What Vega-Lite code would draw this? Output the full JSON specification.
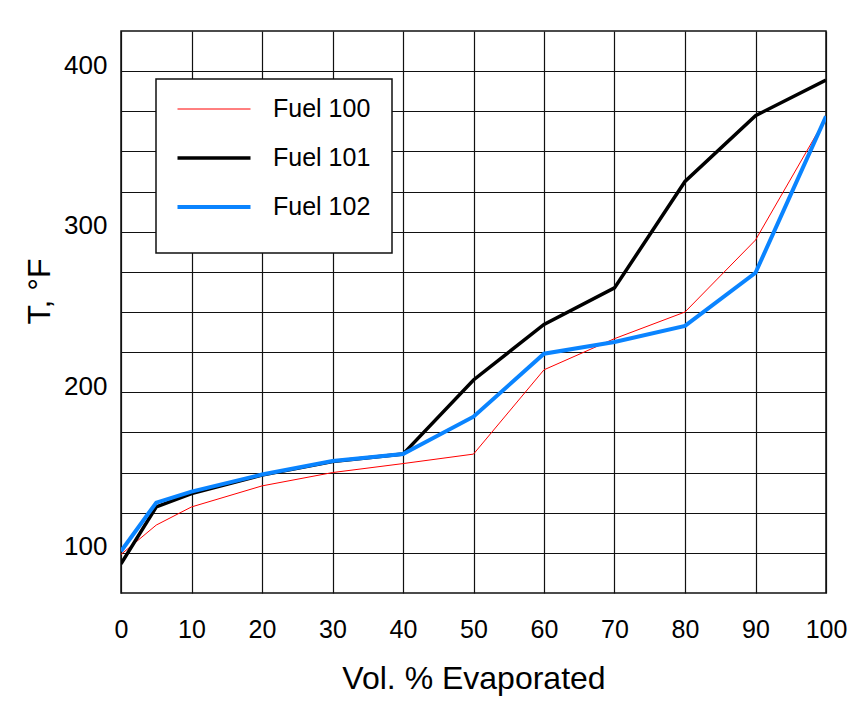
{
  "$schema": "https://vega.github.io/schema/vega-lite/v6.json",
  "width": 705,
  "height": 562,
  "autosize": {"type": "none"},
  "padding": {"left": 121, "top": 31, "right": 22, "bottom": 109},
  "background": "white",
  "config": {
    "font": "Liberation Sans",
    "view": {"stroke": "#111", "strokeWidth": 1.5}
  },
  "data": {
    "values": [
      {"fuel": "Fuel 100", "vol": 0, "T": 99},
      {"fuel": "Fuel 100", "vol": 5, "T": 117.3},
      {"fuel": "Fuel 100", "vol": 10, "T": 128.6},
      {"fuel": "Fuel 100", "vol": 20, "T": 141.7},
      {"fuel": "Fuel 100", "vol": 30, "T": 150},
      {"fuel": "Fuel 100", "vol": 40, "T": 155.6},
      {"fuel": "Fuel 100", "vol": 50, "T": 161.5},
      {"fuel": "Fuel 100", "vol": 60, "T": 214},
      {"fuel": "Fuel 100", "vol": 70, "T": 233.4},
      {"fuel": "Fuel 100", "vol": 80, "T": 250},
      {"fuel": "Fuel 100", "vol": 90, "T": 294.8},
      {"fuel": "Fuel 100", "vol": 100, "T": 371},
      {"fuel": "Fuel 101", "vol": 0, "T": 93.1},
      {"fuel": "Fuel 101", "vol": 5, "T": 128.6},
      {"fuel": "Fuel 101", "vol": 10, "T": 136.9},
      {"fuel": "Fuel 101", "vol": 20, "T": 148.4},
      {"fuel": "Fuel 101", "vol": 30, "T": 156.9},
      {"fuel": "Fuel 101", "vol": 40, "T": 161.5},
      {"fuel": "Fuel 101", "vol": 50, "T": 207.7},
      {"fuel": "Fuel 101", "vol": 60, "T": 242.3},
      {"fuel": "Fuel 101", "vol": 70, "T": 265},
      {"fuel": "Fuel 101", "vol": 80, "T": 331.3},
      {"fuel": "Fuel 101", "vol": 90, "T": 372.3},
      {"fuel": "Fuel 101", "vol": 100, "T": 394.4},
      {"fuel": "Fuel 102", "vol": 0, "T": 101},
      {"fuel": "Fuel 102", "vol": 5, "T": 131.3},
      {"fuel": "Fuel 102", "vol": 10, "T": 138.1},
      {"fuel": "Fuel 102", "vol": 20, "T": 148.8},
      {"fuel": "Fuel 102", "vol": 30, "T": 157.2},
      {"fuel": "Fuel 102", "vol": 40, "T": 161.5},
      {"fuel": "Fuel 102", "vol": 50, "T": 184.8},
      {"fuel": "Fuel 102", "vol": 60, "T": 224},
      {"fuel": "Fuel 102", "vol": 70, "T": 231.3},
      {"fuel": "Fuel 102", "vol": 80, "T": 241.3},
      {"fuel": "Fuel 102", "vol": 90, "T": 274.4},
      {"fuel": "Fuel 102", "vol": 100, "T": 371.9}
    ]
  },
  "mark": {"type": "line", "clip": true},
  "encoding": {
    "x": {
      "field": "vol",
      "type": "quantitative",
      "scale": {"domain": [0, 100], "nice": false},
      "axis": {
        "values": [0, 10, 20, 30, 40, 50, 60, 70, 80, 90, 100],
        "grid": true,
        "gridColor": "#111",
        "gridWidth": 1.2,
        "gridOpacity": 1,
        "ticks": false,
        "domain": false,
        "labelFontSize": 25,
        "labelColor": "#000",
        "labelPadding": 24,
        "labelFlush": false,
        "labelOverlap": false,
        "title": "Vol. % Evaporated",
        "titleFontSize": 32,
        "titleFontWeight": "normal",
        "titleColor": "#000",
        "titleBaseline": "alphabetic",
        "titleY": 95
      }
    },
    "y": {
      "field": "T",
      "type": "quantitative",
      "scale": {"domain": [75, 425], "nice": false, "zero": false},
      "axis": {
        "values": [100, 125, 150, 175, 200, 225, 250, 275, 300, 325, 350, 375, 400],
        "labelExpr": "datum.value % 100 === 0 ? datum.label : ''",
        "grid": true,
        "gridColor": "#111",
        "gridWidth": 1.2,
        "gridOpacity": 1,
        "ticks": false,
        "domain": false,
        "labelFontSize": 26,
        "labelColor": "#000",
        "labelPadding": 14,
        "labelOffset": -6,
        "labelOverlap": false,
        "labelFlush": false,
        "title": "T, °F",
        "titleFontSize": 32,
        "titleFontWeight": "normal",
        "titleColor": "#000",
        "titleAngle": -90,
        "titleBaseline": "alphabetic",
        "titleAlign": "center",
        "titleX": -72,
        "titleY": 260
      }
    },
    "color": {
      "field": "fuel",
      "type": "nominal",
      "scale": {
        "domain": ["Fuel 100", "Fuel 101", "Fuel 102"],
        "range": ["#ff0000", "#000000", "#0a84ff"]
      },
      "legend": {
        "orient": "none",
        "legendX": 35,
        "legendY": 48,
        "title": " ",
        "titleOrient": "bottom",
        "titleFontSize": 12,
        "titlePadding": 1,
        "padding": 21,
        "fillColor": "white",
        "strokeColor": "#111",
        "cornerRadius": 0,
        "symbolType": "M-1.5,0H7.625",
        "symbolSize": 256,
        "clipHeight": 18,
        "rowPadding": 24,
        "labelOffset": 71,
        "labelFontSize": 25,
        "labelColor": "#000",
        "labelFont": "Liberation Sans",
        "encode": {
          "legend": {"update": {"strokeWidth": {"value": 1.5}}},
          "symbols": {
            "update": {
              "strokeWidth": {"signal": "datum.value === 'Fuel 100' ? 1 : datum.value === 'Fuel 101' ? 3.5 : 4"}
            }
          }
        }
      }
    },
    "strokeWidth": {
      "condition": [
        {"test": "datum.fuel === 'Fuel 100'", "value": 1},
        {"test": "datum.fuel === 'Fuel 101'", "value": 3.5}
      ],
      "value": 4
    }
  }
}
